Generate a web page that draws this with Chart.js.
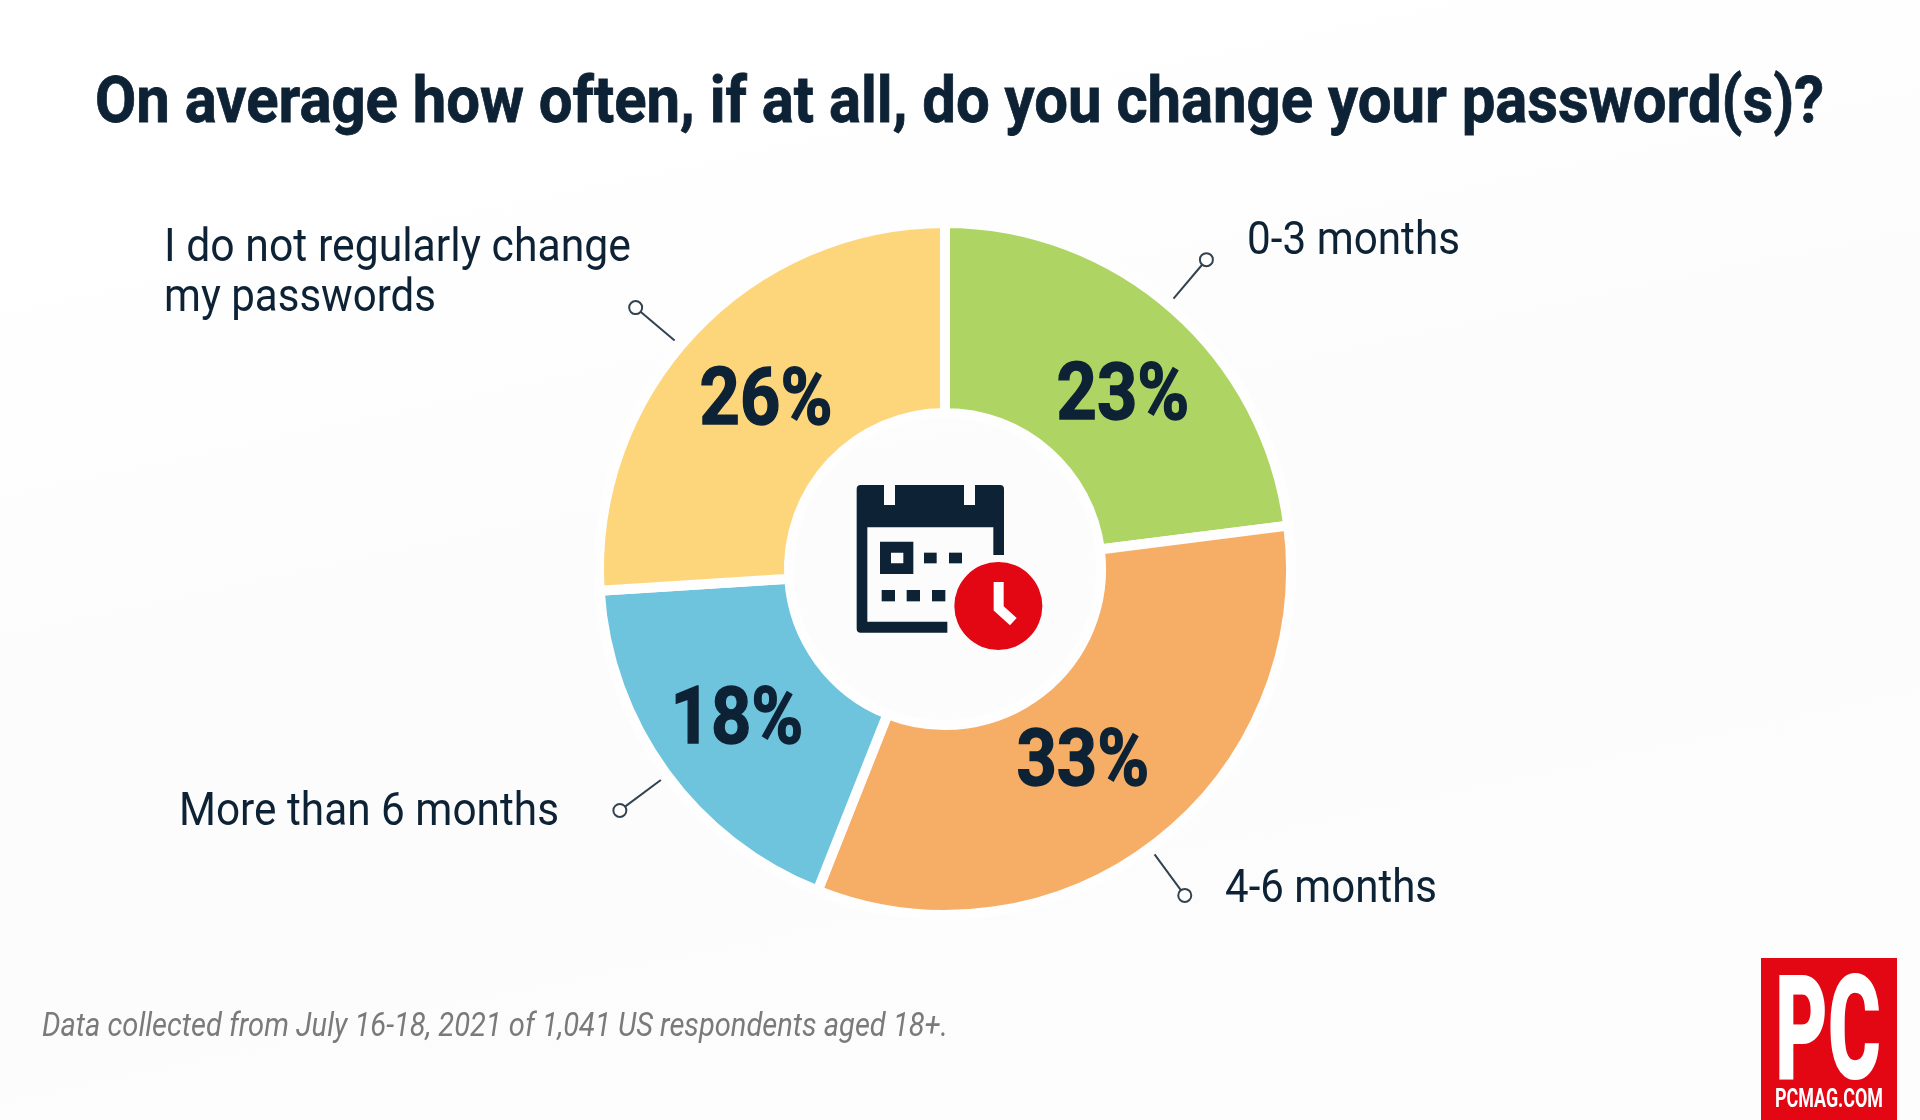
<!DOCTYPE html>
<html>
<head>
<meta charset="utf-8">
<script src="https://cdn.jsdelivr.net/npm/chart.js@4"></script>
<style>
html,body{margin:0;padding:0;width:1920px;height:1120px;overflow:hidden;background:#fdfdfd}
#stage{position:relative;width:1920px;height:1120px;overflow:hidden;
 background:linear-gradient(168deg,#ffffff 0%,#fefefe 30%,#fcfcfc 42%,#fcfcfc 70%,#fdfdfd 100%)}
canvas{position:absolute;left:0;top:0}
.t{position:absolute;white-space:nowrap;line-height:0;transform-origin:0 50%;font-family:Roboto,sans-serif;color:#0e2235}
svg{position:absolute}
#logo{position:absolute;left:1761px;top:958px;width:136px;height:162px;background:#e30613}
</style>
</head>
<body>
<div id="stage">
<canvas id="c" width="1920" height="1120"></canvas>
<svg style="left:780px;top:440px" width="300" height="260" viewBox="0 0 900 780">
 <path fill="#0e2235" fill-rule="evenodd" d="M242 135H312V195H345V135H552V195H585V135H660Q672 135 672 147V345H640V262H262V545H502V578H242Q230 578 230 566V147Q230 135 242 135Z"/>
 <path fill="#0e2235" fill-rule="evenodd" d="M300 305H400V402H300ZM333 338V370H370V338Z"/>
 <g fill="#0e2235">
  <rect x="432" y="338" width="38" height="32"/><rect x="507" y="338" width="39" height="32"/>
  <rect x="305" y="450" width="40" height="34"/><rect x="380" y="450" width="40" height="34"/><rect x="456" y="450" width="40" height="34"/>
 </g>
 <circle cx="655" cy="498" r="132" fill="#e30613"/>
 <path d="M656 426V505L700 545" fill="none" stroke="#fff" stroke-width="30"/>
</svg>
<div id="logo"></div>
</div>
<script>
const titleText = "On average how often, if at all, do you change your password(s)?";
const noteText = "Data collected from July 16-18, 2021 of 1,041 US respondents aged 18+.";
const categories = ["0-3 months", "4-6 months", "More than 6 months", "I do not regularly change\nmy passwords"];
const shares = [23, 33, 18, 26];
const sliceColors = ["#aed563", "#f6ae66", "#6ec4dd", "#fdd67c"];
const darkInk = "#0e2235";
// small hand-placed nudges of the percentage labels and leader lines, per slice
const labelNudgeX = [12, -16, -5, 4];
const labelNudgeY = [10, -11, -2, -2];
const leaderNudgeDeg = [-1.2, 1.5, -0.6, -3];
// category label placement: left, baseline, target width of first line
const catLeft = [1247, 1225, 179, 164];
const catBase = [254, 902, 825, 261];
const catWidth = [213, 212, 380, 467];

function place(parent, text, left, baseline, size, width, extra) {
  const d = document.createElement("div");
  d.className = "t";
  d.textContent = text;
  d.style.left = left + "px";
  d.style.top = (baseline - 0.3415 * size) + "px";
  d.style.fontSize = size + "px";
  Object.assign(d.style, extra || {});
  parent.appendChild(d);
  const k = width / d.getBoundingClientRect().width;
  d.style.transform = "scaleX(" + k + ")";
  return k;
}

const stage = document.getElementById("stage");
place(stage, titleText, 95, 122, 65, 1729, {fontWeight: 700, webkitTextStroke: "0.8px #0e2235"});
place(stage, noteText, 42, 1036, 33, 906, {fontStyle: "italic", color: "#7a7a7a"});
categories.forEach((c, i) => {
  const lines = c.split("\n");
  place(stage, lines[0], catLeft[i], catBase[i], 47, catWidth[i]);
  if (lines[1]) place(stage, lines[1], catLeft[i], catBase[i] + 50, 47, 272);
});
const logo = document.getElementById("logo");
place(logo, "PC", 14, 122, 146, 106, {fontWeight: 900, color: "#fff"});
place(logo, "PCMAG.COM", 14, 150, 25, 108, {fontWeight: 700, color: "#fff"});

const calloutPlugin = {
  id: "callouts",
  afterDatasetsDraw(chart) {
    const ctx = chart.ctx;
    chart.getDatasetMeta(0).data.forEach((arc, i) => {
      const p = arc.getProps(["x", "y", "startAngle", "endAngle", "innerRadius", "outerRadius"], true);
      const c = arc.getCenterPoint();
      const fs = 80, k = 0.88;
      ctx.save();
      ctx.translate(c.x + labelNudgeX[i], c.y + labelNudgeY[i] + fs * 0.355);
      ctx.scale(k, 1);
      ctx.font = "700 " + fs + "px Roboto";
      ctx.fillStyle = darkInk;
      ctx.strokeStyle = darkInk;
      ctx.lineWidth = 1.5;
      ctx.textAlign = "center";
      ctx.textBaseline = "alphabetic";
      ctx.fillText(shares[i] + "%", 0, 0);
      ctx.strokeText(shares[i] + "%", 0, 0);
      ctx.restore();

      const a = (p.startAngle + p.endAngle) / 2 + leaderNudgeDeg[i] * Math.PI / 180;
      const out = p.outerRadius;
      ctx.save();
      ctx.strokeStyle = "#33424f";
      ctx.lineWidth = 2;
      ctx.beginPath();
      ctx.moveTo(p.x + Math.cos(a) * (out + 8), p.y + Math.sin(a) * (out + 8));
      ctx.lineTo(p.x + Math.cos(a) * (out + 53), p.y + Math.sin(a) * (out + 53));
      ctx.stroke();
      ctx.beginPath();
      ctx.arc(p.x + Math.cos(a) * (out + 59), p.y + Math.sin(a) * (out + 59), 6.5, 0, Math.PI * 2);
      ctx.fillStyle = "#fff";
      ctx.fill();
      ctx.stroke();
      ctx.restore();
    });
  }
};

new Chart(document.getElementById("c"), {
  type: "doughnut",
  data: {
    labels: categories.map(c => c.replace("\n", " ")),
    datasets: [{
      data: shares,
      backgroundColor: sliceColors,
      borderColor: "#fefefe",
      borderWidth: 10,
      hoverOffset: 0
    }]
  },
  options: {
    responsive: false,
    devicePixelRatio: 1,
    animation: false,
    radius: 346,
    cutout: "45.1%",
    rotation: 0,
    circumference: 360,
    layout: {padding: {right: 30, top: 18}},
    plugins: {legend: {display: false}, tooltip: {enabled: false}, title: {display: false}}
  },
  plugins: [calloutPlugin]
});
</script>
</body>
</html>
